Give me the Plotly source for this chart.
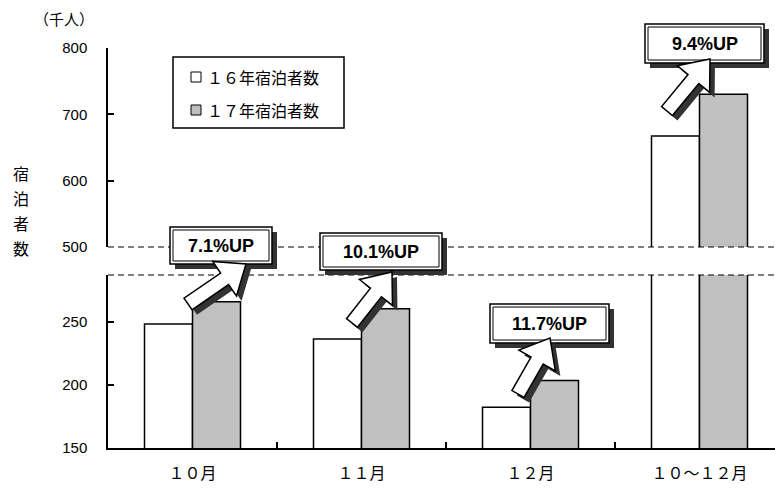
import math
import plotly.graph_objects as go

# ---- data -------------------------------------------------------------
categories = ["１０月", "１１月", "１２月", "１０～１２月"]
guests_2016 = [248.4, 236.6, 182.3, 667.3]   # thousand people
guests_2017 = [266.0, 260.5, 203.6, 730.1]
growth_labels = ["7.1%UP", "10.1%UP", "11.7%UP", "9.4%UP"]
series_names = ["１６年宿泊者数", "１７年宿泊者数"]
lower_ticks = [150, 200, 250]
upper_ticks = [500, 600, 700, 800]

# ---- page geometry (pixels) ------------------------------------------
W, H = 775, 497
L, R, T, B = 108, 775, 48, 448          # plot area
UPPER_BOTTOM = 247                       # bottom of the 500-800 panel
LOWER_TOP = 275                          # top of the 150-... panel
CAT_PX = 169                             # width of one category


def px(x):
    return (x - L) / (R - L)


def py(y):
    return (B - y) / (B - T)


CJK = "Noto Sans CJK JP"
LATIN = "Liberation Sans, Arial, sans-serif"
GRAY = "#C0C0C0"
SHADOW = "#333333"

fig = go.Figure()

# Each series is drawn in both panels of the broken axis
for xa, ya in (("x", "y"), ("x2", "y2")):
    fig.add_bar(x=categories, y=guests_2016, name=series_names[0],
                xaxis=xa, yaxis=ya, showlegend=False,
                marker=dict(color="white", line=dict(color="black", width=1.5)))
    fig.add_bar(x=categories, y=guests_2017, name=series_names[1],
                xaxis=xa, yaxis=ya, showlegend=False,
                marker=dict(color=GRAY, line=dict(color="black", width=1.5)))

x_range = [-0.5, -0.5 + (R - L) / CAT_PX]
lower_px_per_unit = (B - 322) / (250 - 150)
lower_range = [150, 150 + (B - LOWER_TOP) / lower_px_per_unit]

axis_common = dict(showline=True, linecolor="black", linewidth=1.5,
                   showgrid=False, zeroline=False, ticks="inside",
                   ticklen=6, tickwidth=1.5, tickcolor="black",
                   tickfont=dict(family=LATIN, size=15, color="black"),
                   ticklabelstandoff=16)

fig.update_layout(
    width=W, height=H,
    margin=dict(l=L, r=W - R, t=T, b=H - B),
    paper_bgcolor="white", plot_bgcolor="white",
    barmode="group", bargap=0.432, bargroupgap=0,
    showlegend=False,
    xaxis=dict(type="category", range=x_range, domain=[0, 1], anchor="y",
               showline=True, linecolor="black", linewidth=1.5,
               ticks="inside", tickson="boundaries", ticklen=6,
               tickwidth=1.5, tickcolor="black", showgrid=False,
               tickfont=dict(family=CJK, size=16, color="black"),
               ticklabelstandoff=10),
    xaxis2=dict(type="category", range=x_range, domain=[0, 1], anchor="y2",
                matches="x", visible=False),
    yaxis=dict(domain=[0, py(LOWER_TOP)], range=lower_range,
               tickvals=lower_ticks, **axis_common),
    yaxis2=dict(domain=[py(UPPER_BOTTOM), 1], range=[500, 800],
                tickvals=upper_ticks, **axis_common),
)

shapes = []
annotations = []


def label(text, x, y, font, xanchor="center"):
    annotations.append(dict(text=text, xref="paper", yref="paper",
                            x=px(x), y=py(y), xanchor=xanchor,
                            yanchor="middle", showarrow=False, font=font))


# dashed break lines
for yb in (UPPER_BOTTOM, LOWER_TOP):
    shapes.append(dict(type="line", xref="paper", yref="paper",
                       x0=0, x1=1, y0=py(yb), y1=py(yb),
                       line=dict(color="black", width=1.2, dash="6px,4px")))

# legend box
shapes.append(dict(type="rect", xref="paper", yref="paper",
                   x0=px(173), x1=px(344), y0=py(57), y1=py(128),
                   line=dict(color="black", width=1.5), fillcolor="white"))
for name, fill, yc in ((series_names[0], "white", 77),
                       (series_names[1], GRAY, 110)):
    shapes.append(dict(type="rect", xref="paper", yref="paper",
                       x0=px(191), x1=px(201), y0=py(yc - 5), y1=py(yc + 5),
                       line=dict(color="black", width=1), fillcolor=fill))
    label(name, 205, yc, dict(family=CJK, size=16, color="black"),
          xanchor="left")

# growth callouts: box positions and arrow tail/tip (pixels)
boxes = [(170, 227, 272, 264), (320, 233, 442, 270),
         (490, 304, 609, 343), (645, 24, 764, 63)]
arrows = [((188, 304), (246, 264)), ((352, 323), (392, 272)),
          ((518, 394), (550, 338)), ((667, 111), (710, 59))]


def arrow_path(tail, tip, dxo=0, dyo=0, shaft=14, head_w=42, head_l=26):
    tx, ty = tail[0] + dxo, tail[1] + dyo
    hx, hy = tip[0] + dxo, tip[1] + dyo
    d = math.hypot(hx - tx, hy - ty)
    ux, uy = (hx - tx) / d, (hy - ty) / d
    nx, ny = -uy, ux
    bx, by = hx - ux * head_l, hy - uy * head_l
    pts = [(tx + nx * shaft / 2, ty + ny * shaft / 2),
           (bx + nx * shaft / 2, by + ny * shaft / 2),
           (bx + nx * head_w / 2, by + ny * head_w / 2),
           (hx, hy),
           (bx - nx * head_w / 2, by - ny * head_w / 2),
           (bx - nx * shaft / 2, by - ny * shaft / 2),
           (tx - nx * shaft / 2, ty - ny * shaft / 2)]
    return "M " + " L ".join(f"{px(x):.5f},{py(y):.5f}" for x, y in pts) + " Z"


for text, (x0, y0, x1, y1), (tail, tip) in zip(growth_labels, boxes, arrows):
    shapes.append(dict(type="rect", xref="paper", yref="paper", layer="above",
                       x0=px(x0 + 5), x1=px(x1 + 5), y0=py(y0 + 5), y1=py(y1 + 5),
                       line=dict(width=0), fillcolor=SHADOW))
    shapes.append(dict(type="rect", xref="paper", yref="paper", layer="above",
                       x0=px(x0), x1=px(x1), y0=py(y0), y1=py(y1),
                       line=dict(color="black", width=1.5), fillcolor="white"))
    shapes.append(dict(type="rect", xref="paper", yref="paper", layer="above",
                       x0=px(x0 + 3), x1=px(x1 - 3), y0=py(y0 + 3), y1=py(y1 - 3),
                       line=dict(color="black", width=1)))
    shapes.append(dict(type="path", xref="paper", yref="paper", layer="above",
                       path=arrow_path(tail, tip, 5, 5),
                       line=dict(width=0), fillcolor=SHADOW))
    shapes.append(dict(type="path", xref="paper", yref="paper", layer="above",
                       path=arrow_path(tail, tip),
                       line=dict(color="black", width=1.5), fillcolor="white"))
    label(f"<b>{text}</b>", (x0 + x1) / 2, (y0 + y1) / 2,
          dict(family=LATIN, size=18, color="black"))

# vertical axis title and unit
for ch, yc in zip("宿泊者数", (173, 198, 223, 248)):
    label(ch, 21, yc, dict(family=CJK, size=16, color="black"))
label("（千人）", 64, 19, dict(family=CJK, size=15, color="black"))

fig.update_layout(shapes=shapes, annotations=annotations)
fig.write_html("out.html")
